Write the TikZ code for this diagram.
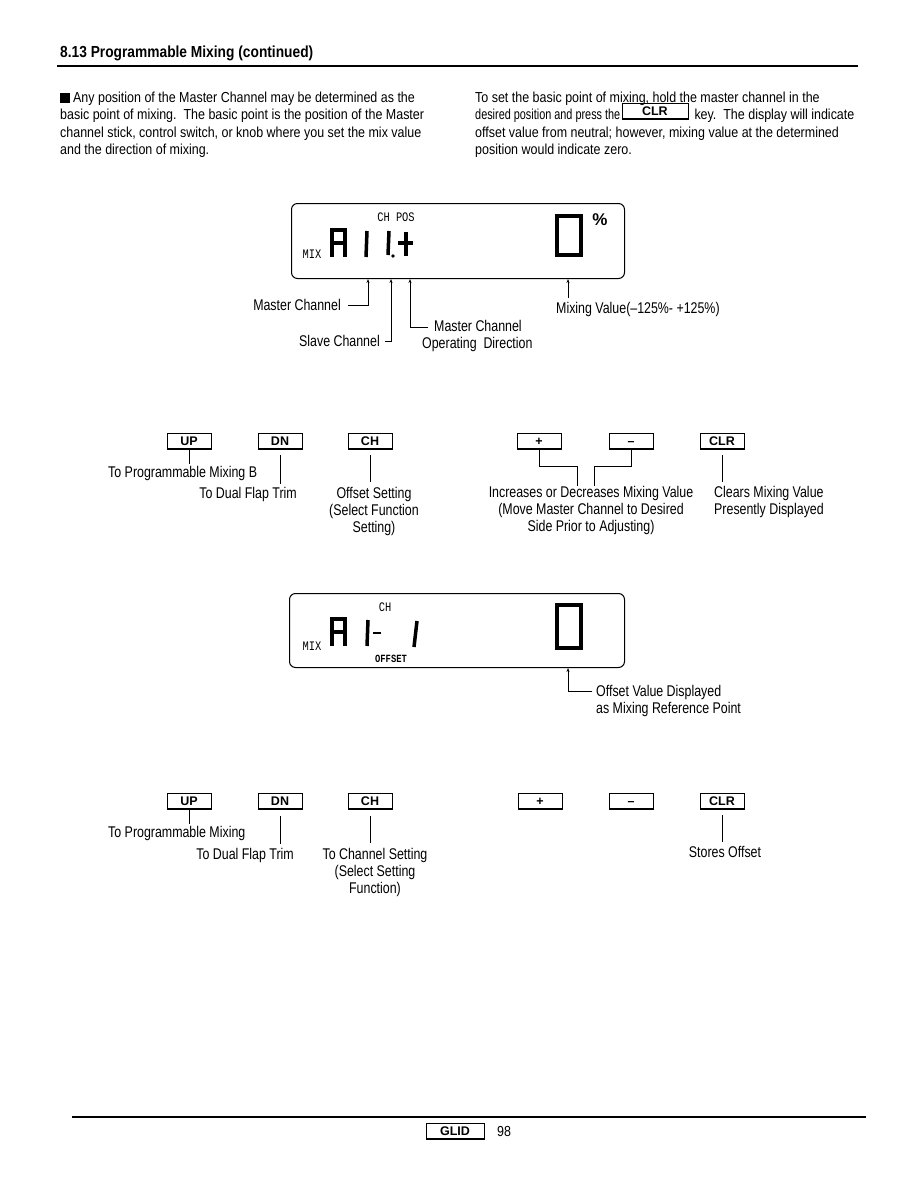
\documentclass[tikz,border=0pt]{standalone}
\usepackage{fontspec}
\usetikzlibrary{arrows.meta,positioning}
\newfontfamily\labelfont[FakeStretch=0.80]{Liberation Sans}
\newfontfamily\bodyfont[FakeStretch=0.86]{Liberation Sans}
\newfontfamily\tightfont[FakeStretch=0.75]{Liberation Sans}
\newfontfamily\keyfont{Liberation Sans}
\newfontfamily\lcdfont[FakeStretch=0.8]{Liberation Mono}

\tikzstyle{note} = [font=\labelfont\fontsize{15.5}{17}\selectfont, inner sep=0pt]
\tikzstyle{para} = [font=\bodyfont\fontsize{14.5}{17}\selectfont, inner sep=0pt, anchor=base west]
\tikzstyle{keycap} = [draw, line width=0.8pt, minimum width=44pt, minimum height=15pt, inner sep=0pt, text height=9pt, text depth=0pt, font=\keyfont\bfseries\fontsize{12.5}{13}\selectfont]
\tikzstyle{lcdbox} = [draw, line width=1pt, rounded corners=6pt, anchor=north west]
\tikzstyle{seg} = [line width=3.5pt]
\tikzstyle{zero} = [line width=4.5pt]
\tikzstyle{lcdtext} = [font=\lcdfont\fontsize{13}{13}\selectfont, inner sep=0pt]
\tikzstyle{leader} = [line width=0.6pt]
\tikzstyle{tip} = [leader, -{Stealth[length=4pt,width=3pt]}]

\begin{document}
\begin{tikzpicture}[x=1pt,y=-1pt]
		\useasboundingbox (0,0) rectangle (918,1188);
		% heading
		\node[para, font=\bodyfont\bfseries\fontsize{16}{18}\selectfont] (title) at (60,58) {8.13 Programmable Mixing (continued)};
		\draw[line width=1.6pt] (57,66) -- (858,66);
		% left paragraph
		\node[para] (l1) at (60,103) {\rule{9.5pt}{9.5pt} Any position of the Master Channel may be determined as the};
		\node[para] (l2) at (60,120) {basic point of mixing.\ \ The basic point is the position of the Master};
		\node[para] (l3) at (60,137) {channel stick, control switch, or knob where you set the mix value};
		\node[para] (l4) at (60,154) {and the direction of mixing.};
		% right paragraph
		\node[para] (r1) at (475,103) {To set the basic point of mixing, hold the master channel in the};
		\node[para, font=\tightfont\fontsize{14.5}{17}\selectfont] (r2a) at (475,120) {desired position and press the};
		\node[keycap, anchor=south west, minimum width=66pt] (clrkey) at ([xshift=1pt,yshift=1pt]r2a.base east) {CLR};
		\draw[line width=1.6pt] (clrkey.north east) -- (clrkey.south east) -- (clrkey.south west);
		\node[para] (r2b) at ([xshift=6pt]r2a.base east -| clrkey.east) {key.\ \ The display will indicate};
		\node[para] (r3) at (475,137) {offset value from neutral; however, mixing value at the determined};
		\node[para] (r4) at (475,154) {position would indicate zero.};

		% first display
		\node[lcdbox, minimum width=333pt, minimum height=75pt] (lcd1) at (291,203) {};
		\node[lcdtext] (chpos) at (396,217) {CH POS};
		\node[lcdtext] (mix1) at (312,254) {MIX};
		\draw[seg] (332,257) -- (332,230) -- (345,230) -- (345,257);
		\draw[seg] (332,243) -- (345,243);
		\draw[seg] (367,231) -- (366,257);
		\draw[seg] (389,231) -- (388,255);
		\fill (393,256) circle (1.8);
		\draw[seg] (398,243) -- (413,243);
		\draw[seg] (406,232) -- (406,256);
		\draw[zero] (557,216) rectangle (581,255);
		\node[font=\keyfont\bfseries\fontsize{17}{17}\selectfont, inner sep=0pt] (pct) at (600,220) {\%};
		% leaders of the first display
		\node[note, anchor=base east] (mctxt) at (341,310) {Master Channel};
		\coordinate (mc) at (368,305);
		\draw[tip] ([xshift=7pt]mctxt.east |- mc) -- (mc) -- (mc |- lcd1.south);
		\node[note, anchor=base east] (sctxt) at (380,346) {Slave Channel};
		\coordinate (sc) at (391,341);
		\draw[tip] ([xshift=5pt]sctxt.east |- sc) -- (sc) -- (sc |- lcd1.south);
		\node[note, anchor=base west] (dirtxt1) at (434,331) {Master Channel};
		\node[note, anchor=base west] (dirtxt2) at (422,348) {Operating\ \ Direction};
		\coordinate (dir) at (410,327);
		\draw[tip] ([xshift=-6pt]dirtxt1.west |- dir) -- (dir) -- (dir |- lcd1.south);
		\node[note, anchor=base west] (mvtxt) at (556,313) {Mixing Value(–125\%- +125\%)};
		\coordinate (mv) at (568,298);
		\draw[tip] (mv) -- (mv |- lcd1.south);

		% first row of keys
		\foreach \name/\x/\txt in {upA/189/UP, dnA/280/DN, chA/370/CH, plusA/539/+, minusA/631/–, clrA/722/CLR}
		{
			\node[keycap] (\name) at (\x,441) {\txt};
			\draw[line width=1.6pt] (\name.north east) -- (\name.south east) -- (\name.south west);
		}
		\node[note, anchor=base west] (uptxtA) at (108,477) {To Programmable Mixing B};
		\draw[leader, shorten >=2pt] (upA.south) -- (upA.south |- uptxtA.north);
		\node[note, anchor=base east] (dntxtA) at (297,498) {To Dual Flap Trim};
		\draw[leader, shorten <=6pt, shorten >=3pt] (dnA.south) -- (dnA.south |- dntxtA.north);
		\node[note, align=center, anchor=north] (chtxtA) at (374,487) {Offset Setting\\(Select Function\\Setting)};
		\draw[leader, shorten <=6pt, shorten >=5pt] (chA.south) -- (chA.south |- chtxtA.north);
		\node[note, align=center, anchor=north] (inctxt) at (591,486) {Increases or Decreases Mixing Value\\(Move Master Channel to Desired\\Side Prior to Adjusting)};
		\coordinate (incL) at (577,466);
		\coordinate (incR) at (594,466);
		\draw[leader] (plusA.south) |- (incL) -- (incL |- inctxt.north);
		\draw[leader] (minusA.south) |- (incR) -- (incR |- inctxt.north);
		\node[note, align=left, anchor=north west] (clrtxtA) at (714,486) {Clears Mixing Value\\Presently Displayed};
		\draw[leader, shorten <=6pt, shorten >=4pt] (clrA.south) -- (clrA.south |- clrtxtA.north);

		% second display
		\node[lcdbox, minimum width=335pt, minimum height=74pt] (lcd2) at (289,593) {};
		\node[lcdtext] (ch2) at (385,607) {CH};
		\node[lcdtext] (mix2) at (312,646) {MIX};
		\node[lcdtext, font=\lcdfont\bfseries\fontsize{11}{11}\selectfont] (offs) at (391,659) {OFFSET};
		\draw[seg] (332,646) -- (332,619) -- (345,619) -- (345,646);
		\draw[seg] (332,632) -- (345,632);
		\draw[seg] (368,620) -- (367,646);
		\draw[line width=2.5pt] (373,633) -- (381,633);
		\draw[seg] (417,621) -- (414,647);
		\draw[zero] (557,605) rectangle (581,648);
		% leader of the second display
		\node[note, align=left, anchor=north west] (ovtxt) at (596,685) {Offset Value Displayed\\as Mixing Reference Point};
		\coordinate (ov) at (568,691);
		\coordinate (ovend) at (592,691);
		\draw[tip] (ovend) -- (ov) -- (ov |- lcd2.south);

		% second row of keys
		\foreach \name/\x/\txt in {upB/189/UP, dnB/280/DN, chB/370/CH, plusB/540/+, minusB/631/–, clrB/722/CLR}
		{
			\node[keycap] (\name) at (\x,801) {\txt};
			\draw[line width=1.6pt] (\name.north east) -- (\name.south east) -- (\name.south west);
		}
		\node[note, anchor=base west] (uptxtB) at (108,837) {To Programmable Mixing};
		\draw[leader, shorten >=2pt] (upB.south) -- (upB.south |- uptxtB.north);
		\node[note, anchor=base east] (dntxtB) at (294,859) {To Dual Flap Trim};
		\draw[leader, shorten <=7pt, shorten >=4pt] (dnB.south) -- (dnB.south |- dntxtB.north);
		\node[note, align=center, anchor=north] (chtxtB) at (375,848) {To Channel Setting\\(Select Setting\\Function)};
		\draw[leader, shorten <=7pt, shorten >=5pt] (chB.south) -- (chB.south |- chtxtB.north);
		\node[note, anchor=north] (clrtxtB) at (725,846) {Stores Offset};
		\draw[leader, shorten <=6pt, shorten >=4pt] (clrB.south) -- (clrB.south |- clrtxtB.north);

		% footer
		\draw[line width=1.2pt] (72,1117) -- (866,1117);
		\node[keycap, minimum width=58pt] (glid) at (455,1131) {GLID};
		\draw[line width=1.6pt] (glid.north east) -- (glid.south east) -- (glid.south west);
		\node[para] (pageno) at (497,1136) {98};
\end{tikzpicture}
\end{document}
